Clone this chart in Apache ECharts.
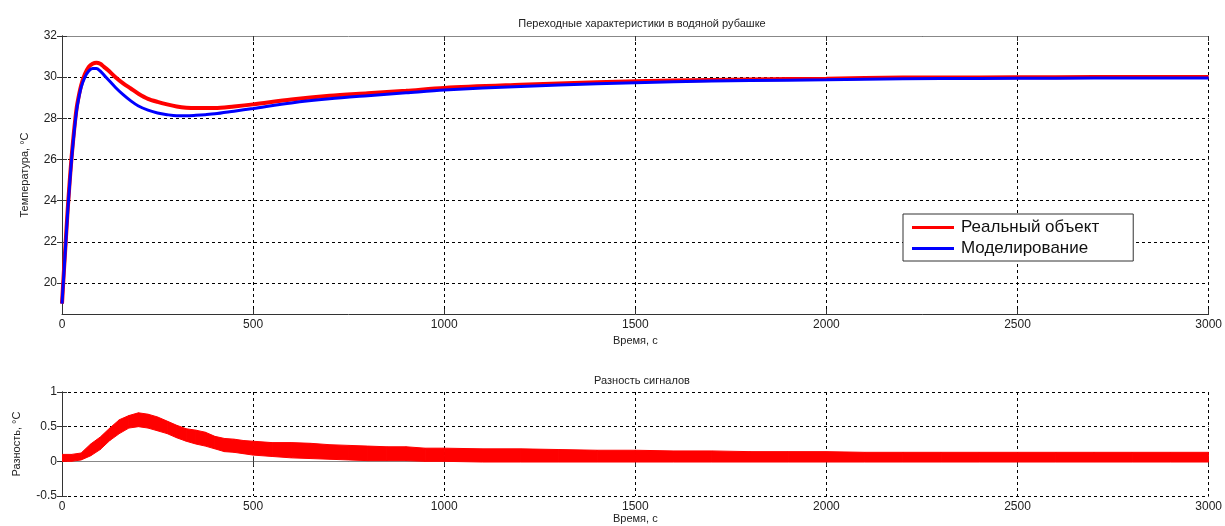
<!DOCTYPE html>
<html>
<head>
<meta charset="utf-8">
<script src="https://cdn.jsdelivr.net/npm/echarts@6/dist/echarts.min.js"></script>
<style>
  html, body { margin: 0; padding: 0; background: #fff; }
  #chart { width: 1225px; height: 526px; }
</style>
</head>
<body>
<div id="chart"></div>
<script>
// time points (s) for the temperature curves
const tempTime = [0, 5, 10, 15, 20, 25, 30, 35, 40, 50, 60, 70, 80, 90, 100, 110, 120, 140, 160, 180,
  200, 225, 250, 275, 300, 325, 350, 375, 400, 450, 500, 600, 700, 800, 900, 1000,
  1200, 1400, 1600, 1800, 2000, 2200, 2400, 2600, 2800, 3000];

// "Реальный объект" (measured), °C
const realTemp = [19.0, 20.6, 22.1, 23.6, 24.9, 26.1, 27.1, 28.0, 28.7, 29.6, 30.15, 30.5, 30.65, 30.7, 30.65, 30.5, 30.35, 30.0, 29.7, 29.45,
  29.2, 28.95, 28.8, 28.68, 28.58, 28.52, 28.5, 28.5, 28.5, 28.58, 28.68, 28.92, 29.1, 29.22, 29.34, 29.48,
  29.63, 29.76, 29.84, 29.89, 29.93, 29.98, 29.99, 30.0, 30.01, 30.01];

// "Моделирование" (model), °C
const modelTemp = [19.0, 20.5, 22.0, 23.5, 24.8, 26.0, 27.0, 27.9, 28.6, 29.5, 30.0, 30.3, 30.42, 30.42, 30.3, 30.1, 29.9, 29.5, 29.15, 28.85,
  28.6, 28.4, 28.26, 28.18, 28.13, 28.13, 28.15, 28.18, 28.22, 28.35, 28.48, 28.75, 28.95, 29.1, 29.24, 29.38,
  29.55, 29.68, 29.78, 29.84, 29.87, 29.92, 29.94, 29.95, 29.96, 29.96];

// difference signal: time and noise band (lower / upper edge), °C
const diffTime = [0, 25, 50, 75, 100, 125, 150, 175, 200, 225, 250, 275, 300, 325, 350, 375, 400, 425, 450, 475,
  500, 550, 600, 650, 700, 750, 800, 850, 900, 950, 1000, 1100, 1200, 1300, 1400, 1500, 1600, 1700, 1800, 1900,
  2000, 2100, 2200, 2300, 2400, 2500, 2600, 2700, 2800, 2900, 3000];
const diffHigh = [0.10, 0.10, 0.12, 0.25, 0.35, 0.48, 0.60, 0.66, 0.70, 0.68, 0.64, 0.58, 0.52, 0.47, 0.45, 0.42, 0.36, 0.33, 0.32, 0.30,
  0.29, 0.27, 0.27, 0.26, 0.24, 0.23, 0.22, 0.21, 0.21, 0.19, 0.19, 0.18, 0.18, 0.17, 0.16, 0.16, 0.15, 0.15, 0.14, 0.14,
  0.14, 0.13, 0.13, 0.13, 0.13, 0.13, 0.13, 0.13, 0.13, 0.13, 0.13];
const diffLow = [0.0, 0.0, 0.02, 0.08, 0.17, 0.30, 0.40, 0.48, 0.50, 0.48, 0.44, 0.40, 0.34, 0.29, 0.25, 0.22, 0.18, 0.14, 0.13, 0.11,
  0.09, 0.07, 0.05, 0.04, 0.03, 0.02, 0.01, 0.01, 0.01, 0.0, 0.0, -0.01, -0.01, -0.01, -0.01, -0.01, -0.01, -0.01, -0.01, -0.01,
  -0.01, -0.01, -0.01, -0.01, -0.01, -0.01, -0.01, -0.01, -0.01, -0.01, -0.01];

const tempTicks = [20, 22, 24, 26, 28, 30, 32];

const FONT = "Liberation Sans, Arial, sans-serif";
const gridLine = { show: true, lineStyle: { color: "#000", type: [3, 3], width: 1 } };
const plainNumber = (v) => String(v);

function pairs(xs, ys) {
  return xs.map((x, i) => [x, ys[i]]);
}

function xAxisPair(gridIndex) {
  return [
    {
      type: "value", gridIndex, min: 0, max: 3000, interval: 500, position: "bottom",
      name: "Время, с", nameLocation: "middle", nameGap: 17,
      nameTextStyle: { fontFamily: FONT, fontSize: 11, color: "#222" },
      axisLine: { show: true, lineStyle: { color: "#333", width: 1 } },
      axisTick: { show: true, inside: true, length: 5, lineStyle: { color: "#333" } },
      axisLabel: { fontFamily: FONT, fontSize: 12, color: "#222", margin: 5, formatter: plainNumber },
      splitLine: gridLine,
    },
    {
      type: "value", gridIndex, min: 0, max: 3000, interval: 500, position: "top",
      axisLine: { show: true, lineStyle: { color: "#888", width: 1 } },
      axisTick: { show: true, inside: true, length: 5, lineStyle: { color: "#333" } },
      axisLabel: { show: false },
      splitLine: { show: false },
    },
  ];
}

// noise band of the difference signal: one filled quad per step between samples
function renderBand(params, api) {
  const i = params.dataIndex;
  if (i >= diffTime.length - 1) {
    return null;
  }
  const p1 = api.coord([diffTime[i], diffLow[i]]);
  const p2 = api.coord([diffTime[i + 1], diffLow[i + 1]]);
  const p3 = api.coord([diffTime[i + 1], diffHigh[i + 1]]);
  const p4 = api.coord([diffTime[i], diffHigh[i]]);
  return {
    type: "polygon",
    shape: { points: [p1, p2, p3, p4] },
    style: { fill: "#ff0000", stroke: "#ff0000", lineWidth: 1 },
  };
}

const chart = echarts.init(document.getElementById("chart"));

chart.setOption({
  animation: false,
  backgroundColor: "#fff",
  title: [
    {
      text: "Переходные характеристики в водяной рубашке", left: 637, top: 13, textAlign: "center",
      textStyle: { fontFamily: FONT, fontSize: 11, fontWeight: "normal", color: "#222" },
    },
    {
      text: "Разность сигналов", left: 637, top: 370, textAlign: "center",
      textStyle: { fontFamily: FONT, fontSize: 11, fontWeight: "normal", color: "#222" },
    },
  ],
  legend: {
    orient: "vertical", left: 903, top: 214,
    backgroundColor: "#fff", borderColor: "#333", borderWidth: 1,
    padding: [5, 34, 4, 9], itemGap: 4, itemWidth: 42, itemHeight: 3,
    textStyle: { fontFamily: FONT, fontSize: 17, color: "#111", padding: [0, 0, 0, 2] },
    data: [
      { name: "Реальный объект", icon: "rect", itemStyle: { color: "#ff0000" } },
      { name: "Моделирование", icon: "rect", itemStyle: { color: "#0000ff" } },
    ],
  },
  grid: [
    { left: 62, right: 13, top: 36, height: 278 },
    { left: 62, right: 13, top: 392, height: 104 },
  ],
  xAxis: [...xAxisPair(0), ...xAxisPair(1)],
  yAxis: [
    {
      type: "value", gridIndex: 0, min: 18.5, max: 32, position: "left",
      name: "Температура, °С", nameLocation: "middle", nameGap: 32, nameRotate: 90,
      nameTextStyle: { fontFamily: FONT, fontSize: 11, color: "#222" },
      axisLine: { show: true, lineStyle: { color: "#333" } },
      axisTick: { show: true, inside: true, length: 5, customValues: tempTicks, lineStyle: { color: "#333" } },
      axisLabel: { fontFamily: FONT, fontSize: 12, color: "#222", margin: 5, customValues: tempTicks },
      splitLine: gridLine,
    },
    {
      type: "value", gridIndex: 0, min: 18.5, max: 32, position: "right",
      axisLine: { show: true, lineStyle: { color: "#333" } },
      axisTick: { show: true, inside: true, length: 5, customValues: tempTicks, lineStyle: { color: "#333" } },
      axisLabel: { show: false, customValues: tempTicks },
      splitLine: { show: false },
    },
    {
      type: "value", gridIndex: 1, min: -0.5, max: 1, interval: 0.5, position: "left",
      name: "Разность, °С", nameLocation: "middle", nameGap: 40, nameRotate: 90,
      nameTextStyle: { fontFamily: FONT, fontSize: 11, color: "#222" },
      axisLine: { show: true, lineStyle: { color: "#333" } },
      axisTick: { show: true, inside: true, length: 5, lineStyle: { color: "#333" } },
      axisLabel: { fontFamily: FONT, fontSize: 12, color: "#222", margin: 5, formatter: plainNumber },
      splitLine: gridLine,
    },
    {
      type: "value", gridIndex: 1, min: -0.5, max: 1, interval: 0.5, position: "right",
      axisLine: { show: true, lineStyle: { color: "#333" } },
      axisTick: { show: true, inside: true, length: 5, lineStyle: { color: "#333" } },
      axisLabel: { show: false },
      splitLine: { show: false },
    },
  ],
  series: [
    {
      name: "Реальный объект", type: "line", xAxisIndex: 0, yAxisIndex: 0,
      data: pairs(tempTime, realTemp), showSymbol: false, smooth: 0.3,
      color: "#ff0000", lineStyle: { color: "#ff0000", width: 4 }, z: 2,
    },
    {
      name: "Моделирование", type: "line", xAxisIndex: 0, yAxisIndex: 0,
      data: pairs(tempTime, modelTemp), showSymbol: false, smooth: 0.3,
      color: "#0000ff", lineStyle: { color: "#0000ff", width: 3 }, z: 3,
    },
    {
      name: "Разность", type: "custom", xAxisIndex: 2, yAxisIndex: 2,
      data: diffTime.map((t, i) => [t, diffLow[i], diffHigh[i]]),
      encode: { x: 0, y: [1, 2] },
      renderItem: renderBand, silent: true, clip: true,
    },
  ],
});
</script>
</body>
</html>
